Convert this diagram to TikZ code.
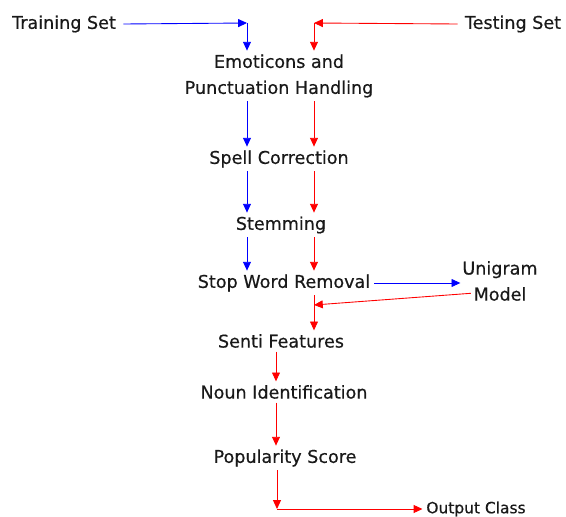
\documentclass[tikz,border=0pt]{standalone}
\usepackage{fontspec}
\setmainfont{DejaVu Sans}[FakeBold=0.5,AutoFakeBold=0.5]
\usetikzlibrary{arrows.meta}

\tikzset{
	stage/.style={font=\fontsize{10}{14.8}\selectfont\bfseries, text=black!90, align=center, inner sep=2pt},
	train/.style={draw=blue, line width=0.5pt},
	test/.style={draw=red, line width=0.5pt}
}

\begin{document}
\begin{tikzpicture}[>={Triangle[length=5pt,width=4.5pt]}, x=0.02cm, y=-0.02cm]

		\useasboundingbox (0,0) rectangle (566,517);

		% columns of the two flows
		\coordinate (bcol) at (247,23);
		\coordinate (rcol) at (314,23);
		\coordinate (lcol) at (276,341);
		\coordinate (ocorner) at (277,509);
		\coordinate (rmerge) at (314,305);

		\node[stage] (train) at (64,24) {Training Set};
		\node[stage] (test) at (513,24) {Testing Set};
		\node[stage] (emo) at (279,76) {Emoticons and\\Punctuation Handling};
		\node[stage] (spell) at (279,159) {Spell Correction};
		\node[stage] (stem) at (281,225) {Stemming};
		\node[stage] (stop) at (284,283) {Stop Word Removal};
		\node[stage,inner sep=1pt] (uni) at (500,281) {Unigram\\Model};
		\node[stage] (senti) at (281,341) {Senti Features};
		\node[stage] (noun) at (284,392) {Noun Identification};
		\node[stage] (pop) at (285,458) {Popularity Score};
		\node[stage,font=\fontsize{8.8}{10}\selectfont\bfseries] (out) at (476,509) {Output Class};

		\coordinate (ustart) at ([xshift=6pt,yshift=-7pt]uni.west);

		% training set
		\draw[train,->] ([xshift=2pt]train.east) -- (bcol);
		\draw[train,->] (bcol) -- (emo.north -| bcol);
		\draw[train,->] (emo.south -| bcol) -- (spell.north -| bcol);
		\draw[train,->] (spell.south -| bcol) -- (stem.north -| bcol);
		\draw[train,->] (stem.south -| bcol) -- (stop.north -| bcol);
		\draw[train,->] (stop.east) -- (stop.east -| uni.west);

		% testing set
		\draw[test,->] ([xshift=-2pt]test.west) -- (rcol);
		\draw[test,->] (rcol) -- (emo.north -| rcol);
		\draw[test,->] (emo.south -| rcol) -- (spell.north -| rcol);
		\draw[test,->] (spell.south -| rcol) -- (stem.north -| rcol);
		\draw[test,->] (stem.south -| rcol) -- (stop.north -| rcol);
		\draw[test,->] (ustart) -- (rmerge);
		\draw[test,->] (stop.south -| rcol) -- (senti.north -| rcol);
		\draw[test,->] (senti.south -| lcol) -- (noun.north -| lcol);
		\draw[test,->] (noun.south -| lcol) -- (pop.north -| lcol);
		\draw[test,->] (pop.south -| ocorner) -- (ocorner);
		\draw[test,->] (ocorner) -- (out.west);
	\end{tikzpicture}
\end{document}
